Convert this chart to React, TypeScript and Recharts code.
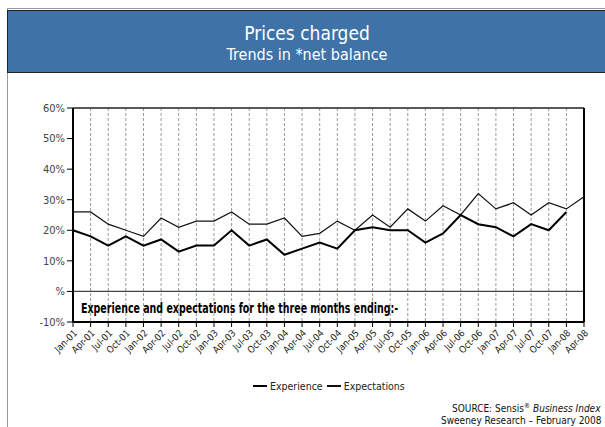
import React from 'react';
import { LineChart, Line, XAxis, YAxis, CartesianGrid, ReferenceLine } from 'recharts';

// quarter labels
const quarters = [
  'Jan-01', 'Apr-01', 'Jul-01', 'Oct-01', 'Jan-02', 'Apr-02', 'Jul-02', 'Oct-02',
  'Jan-03', 'Apr-03', 'Jul-03', 'Oct-03', 'Jan-04', 'Apr-04', 'Jul-04', 'Oct-04',
  'Jan-05', 'Apr-05', 'Jul-05', 'Oct-05', 'Jan-06', 'Apr-06', 'Jul-06', 'Oct-06',
  'Jan-07', 'Apr-07', 'Jul-07', 'Oct-07', 'Jan-08', 'Apr-08',
];

const experience: (number | null)[] = [
  20, 18, 15, 18, 15, 17, 13, 15, 15, 20, 15, 17, 12, 14, 16, 14,
  20, 21, 20, 20, 16, 19, 25, 22, 21, 18, 22, 20, 26, null,
];

const expectations = [
  26, 26, 22, 20, 18, 24, 21, 23, 23, 26, 22, 22, 24, 18, 19, 23,
  20, 25, 21, 27, 23, 28, 25, 32, 27, 29, 25, 29, 27, 31,
];

const yTicks = [-10, 0, 10, 20, 30, 40, 50, 60];

const data = quarters.map((q, i) => ({
  name: q,
  experience: experience[i],
  expectations: expectations[i],
}));

const narrow = "'DejaVu Sans Condensed', 'Liberation Sans Narrow', Arial, sans-serif";

const App: React.FC = () => {
  return (
    <div style={{ position: 'absolute', left: 0, top: 0, width: 605, height: 427, overflow: 'hidden', background: '#fff', fontFamily: narrow }}>
      {/* outer frame */}
      <div style={{ position: 'absolute', left: 7, top: 8, width: 620, height: 440, border: '1px solid #999' }} />
      {/* header band */}
      <div
        style={{
          position: 'absolute', left: 7, top: 10, width: 620, height: 61,
          background: '#3f72a6', border: '1px solid #222', color: '#fff',
        }}
      >
        <div style={{ position: 'absolute', left: 0, width: 605 - 7, top: 11, textAlign: 'center', fontSize: 19, lineHeight: '22px' }}>
          Prices charged
        </div>
        <div style={{ position: 'absolute', left: 0, width: 605 - 7, top: 35, textAlign: 'center', fontSize: 16, lineHeight: '18px' }}>
          Trends in *net balance
        </div>
      </div>

      <div style={{ position: 'absolute', left: 0, top: 0 }}>
        <LineChart width={605} height={427} data={data} margin={{ top: 108, right: 21, bottom: 48, left: 0 }}>
          <CartesianGrid horizontal={false} vertical strokeDasharray="3 2" stroke="#999" />
          <XAxis
            dataKey="name"
            interval={0}
            angle={-45}
            textAnchor="end"
            height={57}
            tickSize={5}
            tickLine={{ stroke: '#000' }}
            axisLine={{ stroke: '#000', strokeWidth: 2 }}
            tick={{ fontSize: 9.5, fill: '#222' }}
          />
          <YAxis
            type="number"
            domain={[-10, 60]}
            ticks={yTicks}
            width={73}
            tickSize={6}
            tickLine={{ stroke: '#000' }}
            axisLine={{ stroke: '#000', strokeWidth: 2 }}
            tick={{ fontSize: 11, fill: '#444' }}
            tickFormatter={(v: number) => (v === 0 ? '%' : `${v}%`)}
          />
          <ReferenceLine y={0} stroke="#444" strokeWidth={1.2} />
          <ReferenceLine y={60} stroke="#222" strokeWidth={1.5} />
          <ReferenceLine x="Apr-08" stroke="#000" strokeWidth={2} />
          <Line
            type="linear"
            dataKey="expectations"
            stroke="#111"
            strokeWidth={1.2}
            dot={false}
            isAnimationActive={false}
          />
          <Line
            type="linear"
            dataKey="experience"
            stroke="#000"
            strokeWidth={2}
            dot={false}
            connectNulls={false}
            isAnimationActive={false}
          />
        </LineChart>
      </div>

      {/* annotation inside plot */}
      <div
        style={{
          position: 'absolute', left: 81, top: 300, fontWeight: 'bold', fontSize: 13.5, color: '#000',
          whiteSpace: 'nowrap', transform: 'scaleX(0.78)', transformOrigin: 'left center',
        }}
      >
        Experience and expectations for the three months ending:-
      </div>

      {/* legend */}
      <div style={{ position: 'absolute', left: 253, top: 380, display: 'flex', alignItems: 'center', fontSize: 10.5, color: '#222', whiteSpace: 'nowrap' }}>
        <span style={{ display: 'inline-block', width: 14, height: 2, background: '#000', marginRight: 3 }} />
        <span style={{ marginRight: 4 }}>Experience</span>
        <span style={{ display: 'inline-block', width: 14, height: 1.5, background: '#111', marginRight: 3 }} />
        <span>Expectations</span>
      </div>

      {/* source */}
      <div style={{ position: 'absolute', left: 452, top: 403, fontSize: 10, lineHeight: '12px', color: '#111', whiteSpace: 'nowrap' }}>
        SOURCE: Sensis<sup style={{ fontSize: 7, lineHeight: 0 }}>®</sup> <i>Business Index</i>
      </div>
      <div style={{ position: 'absolute', left: 441, top: 415, fontSize: 10, lineHeight: '11px', color: '#111', whiteSpace: 'nowrap' }}>
        Sweeney Research – February 2008
      </div>
    </div>
  );
};

export default App;
